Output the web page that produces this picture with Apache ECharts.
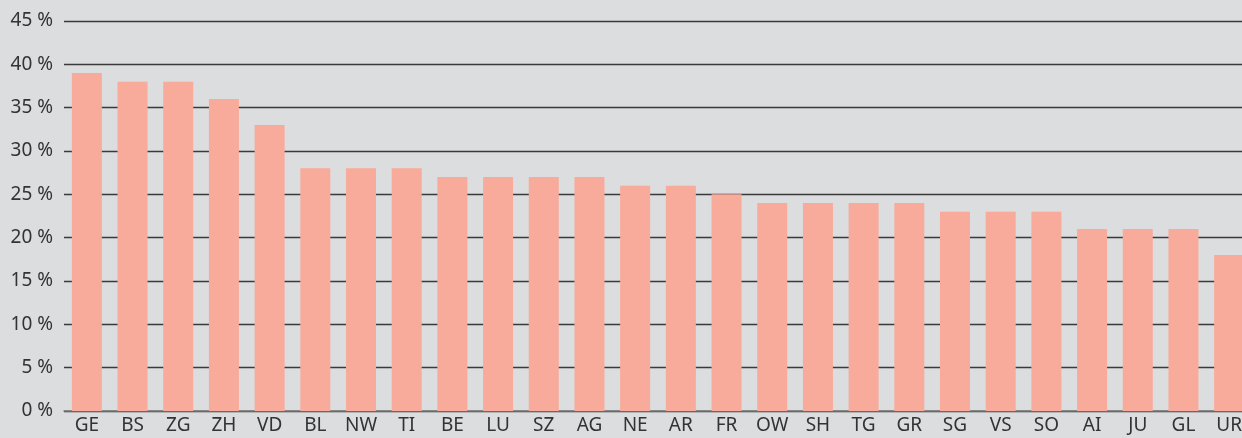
<!DOCTYPE html>
<html>
<head>
<meta charset="utf-8">
<script src="https://cdn.jsdelivr.net/npm/echarts@6/dist/echarts.min.js"></script>
<style>
  html, body { margin: 0; padding: 0; background: #dcdddf; }
  #chart { width: 1242px; height: 438px; }
</style>
</head>
<body>
<div id="chart"></div>
<script>
const cantons = ['GE', 'BS', 'ZG', 'ZH', 'VD', 'BL', 'NW', 'TI', 'BE', 'LU', 'SZ', 'AG', 'NE',
  'AR', 'FR', 'OW', 'SH', 'TG', 'GR', 'SG', 'VS', 'SO', 'AI', 'JU', 'GL', 'UR']
const shares = [39, 38, 38, 36, 33, 28, 28, 28, 27, 27, 27, 27, 26,
  26, 25, 24, 24, 24, 24, 23, 23, 23, 21, 21, 21, 18]

const chart = echarts.init(document.getElementById('chart'), null, { renderer: 'canvas' })
const font = 'Noto Sans'
chart.setOption({
  backgroundColor: '#dcdddf',
  animation: false,
  grid: { left: 64, width: 1188, top: 21, bottom: 27, outerBoundsMode: 'none', containLabel: false },
  xAxis: {
    type: 'category',
    data: cantons,
    axisLine: { show: true, lineStyle: { color: '#7a7a7a', width: 1.5 } },
    axisTick: { show: false },
    axisLabel: { color: '#333', fontSize: 19, fontFamily: font, margin: 5, interval: 0 }
  },
  yAxis: {
    type: 'value',
    min: 0,
    max: 45,
    interval: 5,
    axisLine: { show: false },
    axisTick: { show: false },
    axisLabel: { formatter: '{value} %', color: '#333', fontSize: 19, fontFamily: font, margin: 11 },
    splitLine: { lineStyle: { color: '#3a3a3a', width: 1.3 } }
  },
  series: [{
    type: 'bar',
    data: shares,
    barWidth: 30,
    itemStyle: { color: '#f8aa9b' }
  }]
})
</script>
</body>
</html>
